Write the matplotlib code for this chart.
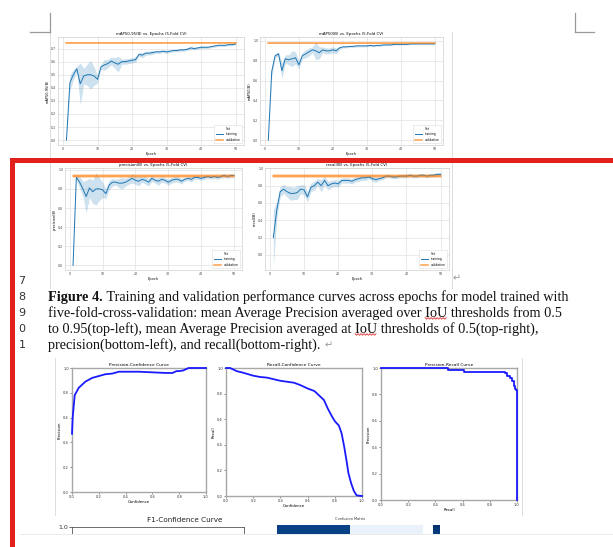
import numpy as np
import matplotlib.pyplot as plt
from matplotlib.lines import Line2D
from matplotlib.patches import Rectangle

# page size in pixels
W, H = 613, 547


def px(x0, y0, x1, y1):
    # pixel box (top-left origin) -> figure rect
    return [x0 / W, 1 - y1 / H, (x1 - x0) / W, (y1 - y0) / H]


# ---------------- data ----------------
epochs = np.arange(1, 51)

map5095_train = [0.00, 0.44, 0.50, 0.545, 0.43, 0.49, 0.50, 0.50, 0.49, 0.465,
                 0.56, 0.575, 0.585, 0.605, 0.59, 0.58, 0.60, 0.60, 0.605, 0.61,
                 0.615, 0.655, 0.65, 0.665, 0.665, 0.67, 0.675, 0.675, 0.68, 0.675,
                 0.68, 0.685, 0.685, 0.69, 0.69, 0.695, 0.705, 0.70, 0.705, 0.71,
                 0.71, 0.71, 0.715, 0.72, 0.725, 0.725, 0.725, 0.73, 0.73, 0.735]
map5095_band = [0.0, 0.06, 0.04, 0.02, 0.16, 0.06, 0.08, 0.11, 0.07, 0.03,
                0.02, 0.04, 0.03, 0.03, 0.04, 0.06, 0.02, 0.02, 0.02, 0.02,
                0.02, 0.015, 0.02, 0.015, 0.015, 0.015, 0.01, 0.012, 0.01, 0.012,
                0.01, 0.01, 0.01, 0.01, 0.01, 0.01, 0.012, 0.01, 0.01, 0.01,
                0.01, 0.008, 0.008, 0.008, 0.008, 0.008, 0.008, 0.008, 0.008, 0.008]
map5095_val, map5095_val_band = 0.745, 0.006

map50_train = [0.00, 0.69, 0.85, 0.87, 0.70, 0.82, 0.81, 0.82, 0.83, 0.76,
               0.85, 0.87, 0.89, 0.91, 0.90, 0.88, 0.91, 0.90, 0.90, 0.91,
               0.90, 0.93, 0.94, 0.94, 0.945, 0.945, 0.95, 0.95, 0.95, 0.95,
               0.955, 0.95, 0.955, 0.955, 0.96, 0.96, 0.96, 0.965, 0.965, 0.965,
               0.965, 0.965, 0.97, 0.97, 0.97, 0.97, 0.97, 0.97, 0.97, 0.97]
map50_band = [0.0, 0.05, 0.02, 0.02, 0.08, 0.04, 0.05, 0.08, 0.06, 0.04,
              0.03, 0.04, 0.04, 0.03, 0.09, 0.06, 0.03, 0.03, 0.03, 0.03,
              0.03, 0.015, 0.01, 0.01, 0.01, 0.01, 0.01, 0.01, 0.01, 0.01,
              0.01, 0.01, 0.01, 0.01, 0.008, 0.008, 0.008, 0.006, 0.006, 0.006,
              0.005, 0.005, 0.005, 0.005, 0.005, 0.005, 0.005, 0.005, 0.005, 0.005]
map50_val, map50_val_band = 0.975, 0.008

prec_train = [0.00, 0.92, 0.87, 0.80, 0.72, 0.81, 0.77, 0.80, 0.80, 0.79,
              0.75, 0.84, 0.87, 0.87, 0.86, 0.86, 0.87, 0.89, 0.91, 0.89,
              0.88, 0.90, 0.89, 0.87, 0.91, 0.89, 0.88, 0.90, 0.89, 0.87,
              0.89, 0.90, 0.90, 0.88, 0.90, 0.91, 0.90, 0.92, 0.92, 0.91,
              0.92, 0.93, 0.92, 0.93, 0.92, 0.93, 0.94, 0.93, 0.94, 0.94]
prec_band = [0.0, 0.03, 0.06, 0.08, 0.17, 0.10, 0.12, 0.17, 0.12, 0.08,
             0.05, 0.05, 0.04, 0.03, 0.05, 0.06, 0.04, 0.04, 0.05, 0.04,
             0.05, 0.03, 0.04, 0.04, 0.03, 0.03, 0.04, 0.03, 0.03, 0.03,
             0.03, 0.03, 0.03, 0.03, 0.02, 0.02, 0.03, 0.02, 0.02, 0.02,
             0.02, 0.02, 0.02, 0.02, 0.02, 0.02, 0.02, 0.02, 0.02, 0.02]
prec_val, prec_val_band = 0.935, 0.025

rec_train = [0.20, 0.52, 0.73, 0.76, 0.73, 0.71, 0.71, 0.72, 0.76, 0.75,
             0.67, 0.78, 0.80, 0.84, 0.80, 0.86, 0.80, 0.82, 0.83, 0.82,
             0.86, 0.86, 0.86, 0.85, 0.87, 0.88, 0.89, 0.89, 0.90, 0.88,
             0.87, 0.88, 0.89, 0.91, 0.91, 0.90, 0.90, 0.91, 0.91, 0.91,
             0.92, 0.91, 0.91, 0.92, 0.92, 0.91, 0.92, 0.92, 0.93, 0.93]
rec_band = [0.32, 0.10, 0.06, 0.05, 0.06, 0.08, 0.07, 0.08, 0.05, 0.06,
            0.06, 0.05, 0.05, 0.04, 0.07, 0.05, 0.05, 0.04, 0.04, 0.04,
            0.03, 0.03, 0.03, 0.03, 0.03, 0.03, 0.03, 0.03, 0.02, 0.03,
            0.03, 0.02, 0.02, 0.02, 0.02, 0.02, 0.02, 0.02, 0.02, 0.02,
            0.02, 0.02, 0.02, 0.02, 0.02, 0.02, 0.02, 0.02, 0.02, 0.02]
rec_val, rec_val_band = 0.91, 0.025

# evaluation curves
pc_conf = [0.0, 0.005, 0.02, 0.05, 0.1, 0.15, 0.2, 0.25, 0.3, 0.35, 0.4,
           0.5, 0.6, 0.7, 0.75, 0.78, 0.8, 0.83, 0.85, 0.87, 1.0]
pc_prec = [0.47, 0.60, 0.78, 0.84, 0.89, 0.92, 0.935, 0.95, 0.955, 0.97, 0.97,
           0.97, 0.965, 0.96, 0.96, 0.975, 0.975, 0.98, 0.99, 1.0, 1.0]

rc_conf = [0.0, 0.03, 0.08, 0.12, 0.2, 0.25, 0.3, 0.4, 0.5, 0.55, 0.6, 0.65,
           0.68, 0.72, 0.75, 0.78, 0.8, 0.83, 0.85, 0.87, 0.89, 0.9, 0.92,
           0.94, 0.96, 1.0]
rc_rec = [1.0, 1.0, 0.975, 0.965, 0.94, 0.93, 0.925, 0.90, 0.885, 0.865, 0.84,
          0.82, 0.79, 0.75, 0.68, 0.62, 0.585, 0.55, 0.49, 0.38, 0.25, 0.18,
          0.10, 0.04, 0.005, 0.0]

pr_rec = [0.0, 0.49, 0.61, 0.91, 0.93, 0.95, 0.965, 0.975, 0.985, 0.995, 1.0]
pr_prec = [1.0, 0.985, 0.97, 0.96, 0.94, 0.925, 0.90, 0.86, 0.84, 0.83, 0.0]

conf_matrix = [[0.93, 0.07], [0.07, 0.0]]

line_numbers = ['7', '8', '9', '0', '1']
caption_bold = 'Figure 4.'
caption_lines = [
    ' Training and validation performance curves across epochs for model trained with',
    'five-fold-cross-validation: mean Average Precision averaged over IoU thresholds from 0.5',
    'to 0.95(top-left), mean Average Precision averaged at IoU thresholds of 0.5(top-right),',
    'precision(bottom-left), and recall(bottom-right). ',
]

# ---------------- figure ----------------
fig = plt.figure(figsize=(W / 100, H / 100), dpi=100)
fig.patch.set_facecolor('white')

BLUE, ORANGE = '#1f77b4', '#ff7f0e'


def cv_panel(rect, mean, band, val, val_band, title, ylabel, yticks):
    ax = fig.add_axes(px(*rect))
    mean = np.array(mean)
    band = np.array(band)
    ax.fill_between(epochs, mean - band, mean + band, color=BLUE, alpha=0.22, lw=0)
    ax.plot(epochs, mean, color=BLUE, lw=0.7, label='training')
    ax.fill_between([epochs[0], epochs[-1]], val - val_band, val + val_band,
                    color=ORANGE, alpha=0.3, lw=0)
    ax.plot([epochs[0], epochs[-1]], [val, val], color=ORANGE, lw=1.1,
            alpha=0.75, label='validation')
    ax.set_title(title, fontsize=2.8, pad=1.5)
    ax.set_xlabel('Epoch', fontsize=2.5, labelpad=1)
    ax.set_ylabel(ylabel, fontsize=2.5, labelpad=1)
    ax.set_xticks([0, 10, 20, 30, 40, 50])
    ax.set_yticks(yticks)
    ax.tick_params(labelsize=2.3, length=0, pad=1.2, colors='#444444')
    ax.grid(True, color='#e2e2e2', lw=0.5)
    ax.set_axisbelow(True)
    for s in ax.spines.values():
        s.set_color('#d0d0d0')
        s.set_linewidth(0.5)
    leg = ax.legend(title='Set', loc='lower right', fontsize=2.2,
                    title_fontsize=2.2, handlelength=2.5, borderpad=0.6,
                    framealpha=1, edgecolor='#dddddd')
    leg.get_frame().set_linewidth(0.4)
    return ax


cv_panel((58, 37, 244, 145), map5095_train, map5095_band, map5095_val,
         map5095_val_band, 'mAP50-95(B) vs. Epochs (5-Fold CV)', 'mAP50-95(B)',
         [0.0, 0.1, 0.2, 0.3, 0.4, 0.5, 0.6, 0.7])
cv_panel((260, 37, 443, 145), map50_train, map50_band, map50_val,
         map50_val_band, 'mAP50(B) vs. Epochs (5-Fold CV)', 'mAP50(B)',
         [0.0, 0.2, 0.4, 0.6, 0.8, 1.0])
cv_panel((65, 168, 242, 270), prec_train, prec_band, prec_val,
         prec_val_band, 'precision(B) vs. Epochs (5-Fold CV)', 'precision(B)',
         [0.0, 0.2, 0.4, 0.6, 0.8, 1.0])
cv_panel((265, 168, 449, 270), rec_train, rec_band, rec_val,
         rec_val_band, 'recall(B) vs. Epochs (5-Fold CV)', 'recall(B)',
         [0.0, 0.2, 0.4, 0.6, 0.8, 1.0])


def eval_panel(rect, x, y, title, xlabel, ylabel, step=False):
    ax = fig.add_axes(px(*rect))
    ax.plot(x, y, color='#1a1aff', lw=1.3, zorder=3, clip_on=False,
            drawstyle='steps-post' if step else 'default')
    ax.set_xlim(0, 1)
    ax.set_ylim(0, 1)
    ax.set_title(title, fontsize=3.2, pad=1.5)
    ax.set_xlabel(xlabel, fontsize=2.8, labelpad=1)
    ax.set_ylabel(ylabel, fontsize=2.8, labelpad=1)
    ticks = [0.0, 0.2, 0.4, 0.6, 0.8, 1.0]
    ax.set_xticks(ticks)
    ax.set_yticks(ticks)
    ax.tick_params(labelsize=2.6, length=1.2, width=0.4, pad=1, colors='#333333')
    for s in ax.spines.values():
        s.set_color('#a8a8a8')
        s.set_linewidth(1.0)
    return ax


eval_panel((72, 368, 206, 492), pc_conf, pc_prec, 'Precision-Confidence Curve',
           'Confidence', 'Precision')
eval_panel((226, 368, 362, 496), rc_conf, rc_rec, 'Recall-Confidence Curve',
           'Confidence', 'Recall')
eval_panel((381, 368, 517, 500), pr_rec, pr_prec, 'Precision-Recall Curve',
           'Recall', 'Precision', step=True)

# partially visible figures at the bottom of the page
ax_f1 = fig.add_axes(px(72, 527, 244, 700))
ax_f1.set_ylim(0, 1)
ax_f1.set_yticks([1.0])
ax_f1.set_yticklabels(['1.0'])
ax_f1.set_xticks([])
ax_f1.tick_params(labelsize=4.5, length=2, width=0.5, colors='#333333', pad=1)
for s in ax_f1.spines.values():
    s.set_color('#555555')
    s.set_linewidth(0.6)
fig.text(185 / W, 1 - 520 / H, 'F1-Confidence Curve', fontsize=5.2,
         ha='center', va='center', color='#222222')

ax_cm = fig.add_axes(px(277, 525, 423, 670))
im = ax_cm.imshow(conf_matrix, cmap='Blues', vmin=0, vmax=1, aspect='auto')
ax_cm.set_xticks([])
ax_cm.set_yticks([])
for s in ax_cm.spines.values():
    s.set_visible(False)
fig.text(350 / W, 1 - 519 / H, 'Confusion Matrix', fontsize=2.5,
         ha='center', va='center', color='#333333')
cax = fig.add_axes(px(433, 525, 440, 670))
cb = fig.colorbar(im, cax=cax)
cb.outline.set_visible(False)
cax.set_yticks([])

# bottom page margin covers the rest
fig.add_artist(Rectangle((0, 0), 1, 1 - 534 / H, transform=fig.transFigure,
                         facecolor='white', edgecolor='none', zorder=20))
fig.add_artist(Line2D([20 / W, 1], [1 - 534 / H] * 2, color='#e6e6e6', lw=0.6,
                      zorder=21))

# image borders and page corner marks
for x, y0, y1 in [(50, 32, 288), (452, 32, 288), (55, 358, 515), (522, 358, 515)]:
    fig.add_artist(Line2D([x / W] * 2, [1 - y0 / H, 1 - y1 / H],
                          color='#d8d8d8', lw=0.6, zorder=5))
corner = dict(color='#9a9a9a', lw=0.9, zorder=5)
fig.add_artist(Line2D([50 / W] * 2, [1 - 13 / H, 1 - 32 / H], **corner))
fig.add_artist(Line2D([30 / W, 50 / W], [1 - 32 / H] * 2, **corner))
fig.add_artist(Line2D([575 / W] * 2, [1 - 13 / H, 1 - 32 / H], **corner))
fig.add_artist(Line2D([575 / W, 594 / W], [1 - 32 / H] * 2, **corner))

# red revision frame
RED = '#e3211c'
fig.add_artist(Rectangle((10 / W, 1 - 163 / H), 1 - 10 / W, 5 / H,
                         transform=fig.transFigure, facecolor=RED,
                         edgecolor='none', zorder=30))
fig.add_artist(Rectangle((10 / W, 0), 5 / W, 1 - 158 / H,
                         transform=fig.transFigure, facecolor=RED,
                         edgecolor='none', zorder=30))

# line numbers
for i, n in enumerate(line_numbers):
    fig.text(22 / W, 1 - (281 + 16 * i) / H, n, fontsize=8, ha='center',
             va='center', color='#333333', family='DejaVu Sans')

# caption
serif = dict(fontsize=10.25, family='Liberation Serif', color='#111111', va='center')
renderer = fig.canvas.get_renderer()
tb = fig.text(48 / W, 1 - 297 / H, caption_bold, fontweight='bold', **serif)
bx = tb.get_window_extent(renderer).x1 / W
fig.text(bx, 1 - 297 / H, caption_lines[0], **serif)
caption_texts = []
for i, line in enumerate(caption_lines[1:]):
    caption_texts.append(fig.text(48 / W, 1 - (313 + 16 * i) / H, line, **serif))
last_x = caption_texts[-1].get_window_extent(renderer).x1 / W


def squiggle(text_obj, word):
    # red spell-check underline below a word of a caption line
    s = text_obj.get_text()
    k = s.index(word)
    y_mid = 1 - text_obj.get_position()[1]
    tmp = fig.text(0, 0, s[:k], **serif)
    x0 = text_obj.get_window_extent(renderer).x0 + tmp.get_window_extent(renderer).width
    tmp.set_text(s[:k + len(word)])
    x1 = text_obj.get_window_extent(renderer).x0 + tmp.get_window_extent(renderer).width
    tmp.remove()
    y_base = text_obj.get_window_extent(renderer).y0 + 1.5
    xs = np.arange(x0, x1 + 0.1, 1.5)
    ys = y_base + np.where(np.arange(len(xs)) % 2 == 0, 0.8, -0.8)
    fig.add_artist(Line2D(xs / W, ys / H, color='#e03030', lw=0.6, zorder=6))


squiggle(caption_texts[0], 'IoU')
squiggle(caption_texts[1], 'IoU')

# paragraph marks
mark = dict(fontsize=7, color='#999999', va='center', family='DejaVu Sans')
fig.text(last_x, 1 - 345 / H, '\u21b5', **mark)
fig.text(453 / W, 1 - 278 / H, '\u21b5', **mark)

fig.savefig('out.png', dpi=100)
